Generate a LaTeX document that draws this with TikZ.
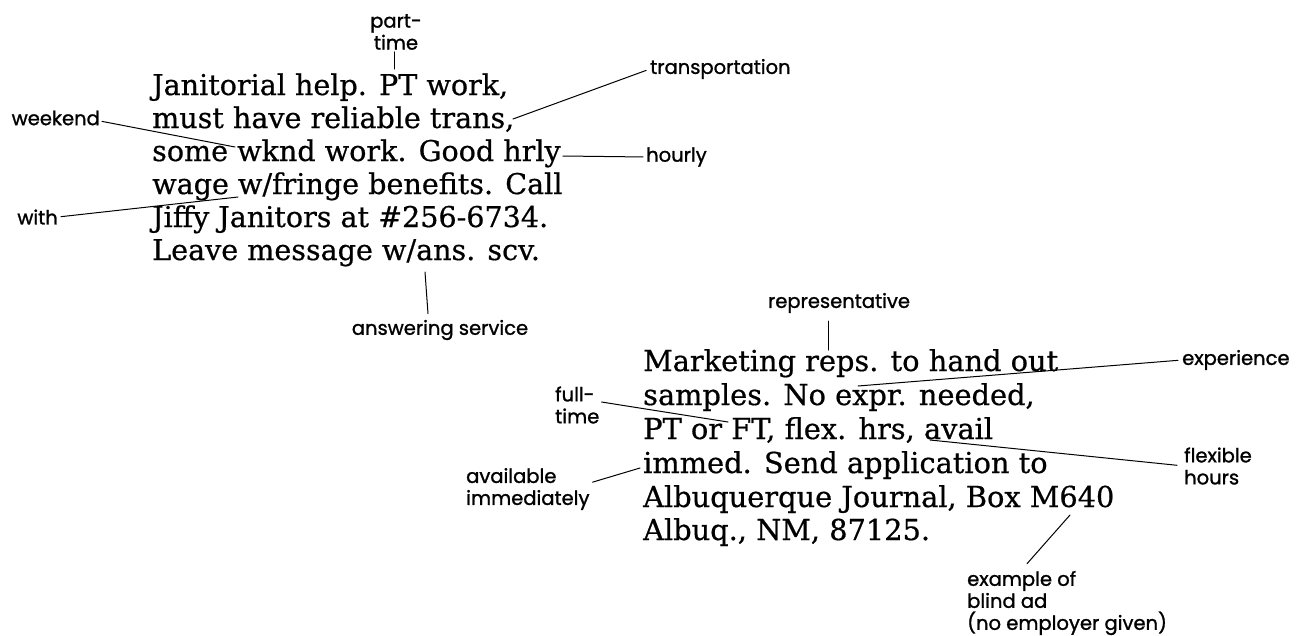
\documentclass[tikz,border=0pt]{standalone}
\usepackage{fontspec}
\newfontfamily\adfont{DejaVu Serif}[FakeBold=0.6]
\newfontfamily\notefont{Poppins}[FakeBold=1.2]
\newlength\probewd

\begin{document}
% type sizes taken from the width of one line per block
\settowidth\probewd{\adfont\fontsize{20}{20}\selectfont Janitorial help. PT work,}%
\pgfmathsetmacro\sizeJ{20*356/\probewd}%
\settowidth\probewd{\adfont\fontsize{20}{20}\selectfont Marketing reps. to hand out}%
\pgfmathsetmacro\sizeM{20*415/\probewd}%
\settowidth\probewd{\notefont\fontsize{10}{10}\selectfont representative}%
\pgfmathsetmacro\notesize{10*142/\probewd}%
\begin{tikzpicture}[x=1pt,y=-1pt,
  adline/.style={anchor=base west,inner sep=0pt},
  janfont/.style={font=\adfont\fontsize{\sizeJ}{\sizeJ}\selectfont},
  mktfont/.style={font=\adfont\fontsize{\sizeM}{\sizeM}\selectfont},
  note/.style={inner sep=0pt,font=\notefont\fontsize{\notesize}{22}\selectfont},
  lead/.style={draw=black,line width=1pt,line cap=round}]

% canvas
\fill[white] (0,0) rectangle (1307,635);
\useasboundingbox (0,0) rectangle (1307,635);

% first ad
\node[adline,janfont] (j1) at (152,95)  {Janitorial help. PT work,};
\node[adline,janfont] (j2) at (152,128) {must have reliable trans,};
\node[adline,janfont] (j3) at (152,161) {some wknd work. Good hrly};
\node[adline,janfont] (j4) at (152,194) {wage w/fringe benefits. Call};
\node[adline,janfont] (j5) at (152,227) {Jiffy Janitors at \#256-6734.};
\node[adline,janfont] (j6) at (152,260) {Leave message w/ans. scv.};

% second ad
\node[adline,mktfont] (m1) at (643,371) {Marketing reps. to hand out};
\node[adline,mktfont] (m2) at (643,405) {samples. No expr. needed,};
\node[adline,mktfont] (m3) at (643,439) {PT or FT, flex. hrs, avail};
\node[adline,mktfont] (m4) at (643,473) {immed. Send application to};
\node[adline,mktfont] (m5) at (643,507) {Albuquerque Journal, Box M640};
\node[adline,mktfont] (m6) at (643,540) {Albuq., NM, 87125.};

% glosses
\node[note,align=center] (pt)  at (396,32)   {part-\\time};
\node[note,anchor=west]  (trn) at (650,69)   {transportation};
\node[note,anchor=east]  (wkd) at (100,118)  {weekend};
\node[note,anchor=west]  (hrl) at (646,157)  {hourly};
\node[note,anchor=east]  (wth) at (58,217)   {with};
\node[note]              (ans) at (440,330)  {answering service};
\node[note]              (rep) at (839,303)  {representative};
\node[note,anchor=west]  (exp) at (1182,360) {experience};
\node[note,anchor=west,align=left] (ftm) at (555,405)  {full-\\time};
\node[note,anchor=west,align=left] (flx) at (1184,466) {flexible\\hours};
\node[note,anchor=west,align=left] (avl) at (466,489)  {available\\immediately};
\node[note,anchor=west,align=left] (bld) at (967,603)  {example of\\blind ad\\(no employer given)};

% points in the ad text that the glosses refer to
\coordinate (cpt) at (394,69);
\coordinate (ctr) at (513,119);
\coordinate (cwk) at (235,147);
\coordinate (chr) at ([xshift=2pt,yshift=5pt]j3.base east);
\coordinate (cwi) at (238,197);
\coordinate (can) at (425,272);
\coordinate (crp) at (828,350);
\coordinate (cex) at (858,386);
\coordinate (cft) at (728,422);
\coordinate (cfx) at (930,440);
\coordinate (cav) at (640,468);
\coordinate (cbl) at (1070,515);

% leader lines
\draw[lead] ([xshift=-2pt,yshift=-2pt]pt.south) -- (cpt);
\draw[lead,shorten <=4pt] (trn.west) -- (ctr);
\draw[lead,shorten <=2pt] ([yshift=-3pt]wkd.east) -- (cwk);
\draw[lead,shorten <=3pt] (hrl.west) -- (chr);
\draw[lead,shorten <=3pt] (wth.east) -- (cwi);
\draw[lead] ([xshift=-12pt,yshift=6pt]ans.north) -- (can);
\draw[lead] ([xshift=-11pt,yshift=-8pt]rep.south) -- (crp);
\draw[lead,shorten <=4pt] (exp.west) -- (cex);
\draw[lead] ([xshift=2pt,yshift=3pt]ftm.east) -- (cft);
\draw[lead,shorten <=7pt] (flx.west) -- (cfx);
\draw[lead,shorten <=3pt] ([yshift=6pt]avl.east) -- (cav);
\draw[lead] ([xshift=60pt,yshift=7pt]bld.north west) -- (cbl);
\end{tikzpicture}
\end{document}
